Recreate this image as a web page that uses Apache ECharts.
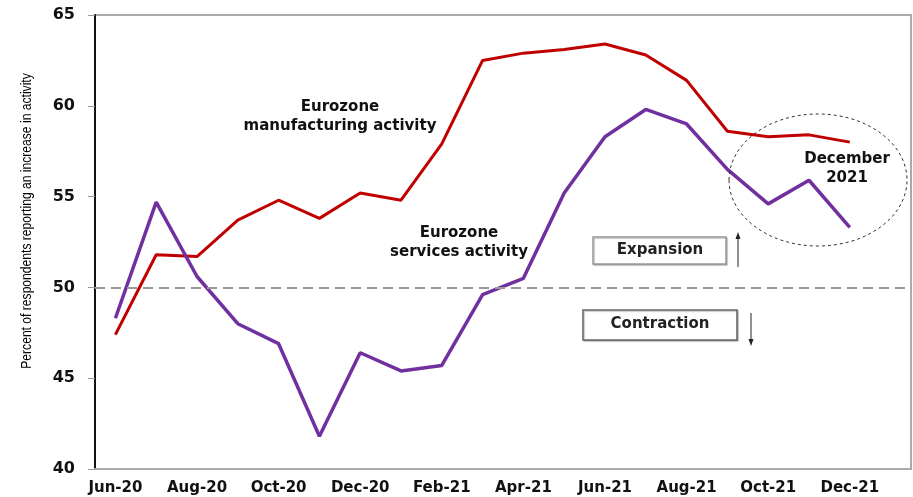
<!DOCTYPE html>
<html>
<head>
<meta charset="utf-8">
<script src="https://cdn.jsdelivr.net/npm/echarts@6/dist/echarts.min.js"></script>
<style>
    html, body { margin: 0; padding: 0; background: #fff; }
    #main { width: 913px; height: 497px; }
</style>
</head>
<body>
<div id="main"></div>
<script>
// 月份
var months = ['Jun-20', 'Jul-20', 'Aug-20', 'Sep-20', 'Oct-20', 'Nov-20', 'Dec-20',
    'Jan-21', 'Feb-21', 'Mar-21', 'Apr-21', 'May-21', 'Jun-21', 'Jul-21', 'Aug-21',
    'Sep-21', 'Oct-21', 'Nov-21', 'Dec-21'];
// 制造业
var manufacturing = [47.4, 51.8, 51.7, 53.7, 54.8, 53.8, 55.2, 54.8, 57.9, 62.5,
    62.9, 63.1, 63.4, 62.8, 61.4, 58.6, 58.3, 58.4, 58.0];
// 服务业
var services = [48.3, 54.7, 50.6, 48.0, 46.9, 41.8, 46.4, 45.4, 45.7, 49.6,
    50.5, 55.2, 58.3, 59.8, 59.0, 56.5, 54.6, 55.9, 53.3];
var yTicks = [40, 45, 50, 55, 60, 65];

(function () {
    'use strict';
    var myChart = echarts.init(document.getElementById('main'));
    var bold = 'DejaVu Sans';

    var option = {
        animation: false,
        backgroundColor: '#fff',
        grid: {
            left: 95,
            right: 2,
            top: 15,
            bottom: 28,
            show: true,
            borderColor: '#aaa',
            borderWidth: 2
        },
        xAxis: {
            type: 'category',
            // 末尾留一个空位
            data: months.concat(['']),
            boundaryGap: true,
            axisLine: { lineStyle: { color: '#aaa', width: 2 } },
            axisTick: { show: false },
            axisLabel: {
                interval: 1,
                margin: 12,
                color: '#111',
                fontFamily: bold,
                fontWeight: 'bold',
                fontSize: 15
            },
            splitLine: { show: false }
        },
        yAxis: {
            type: 'value',
            min: yTicks[0],
            max: yTicks[yTicks.length - 1],
            interval: 5,
            axisLine: { show: true, lineStyle: { color: '#111', width: 2 } },
            axisTick: { show: true, inside: false, length: 7, lineStyle: { color: '#999' } },
            axisLabel: {
                margin: 20,
                color: '#111',
                fontFamily: bold,
                fontWeight: 'bold',
                fontSize: 16
            },
            splitLine: { show: false }
        },
        series: [{
                name: 'Eurozone manufacturing activity',
                type: 'line',
                data: manufacturing,
                showSymbol: false,
                lineStyle: { color: '#c00000', width: 3 },
                z: 3,
                markLine: {
                    silent: true,
                    symbol: 'none',
                    label: { show: false },
                    lineStyle: { color: '#999', width: 2, type: [10, 6] },
                    data: [{ yAxis: 50 }]
                }
            },
            {
                name: 'Eurozone services activity',
                type: 'line',
                data: services,
                showSymbol: false,
                lineStyle: { color: '#7030a0', width: 3.5 },
                z: 4
            }
        ],
        graphic: [
            // 纵轴标题（窄字体效果）
            {
                type: 'text', x: 27, y: 221, rotation: Math.PI / 2, scaleX: 0.865, z: 10,
                style: {
                    text: 'Percent of respondents reporting an increase in activity',
                    align: 'center', verticalAlign: 'middle',
                    font: '14px Liberation Sans', fill: '#000'
                }
            },
            {
                type: 'text', x: 340, y: 98, z: 10,
                style: {
                    text: 'Eurozone\nmanufacturing activity',
                    align: 'center',
                    font: 'bold 15px DejaVu Sans', fill: '#111', lineHeight: 19
                }
            },
            {
                type: 'text', x: 459, y: 224, z: 10,
                style: {
                    text: 'Eurozone\nservices activity',
                    align: 'center',
                    font: 'bold 15px DejaVu Sans', fill: '#111', lineHeight: 19
                }
            },
            {
                type: 'text', x: 847, y: 150, z: 10,
                style: {
                    text: 'December\n2021',
                    align: 'center',
                    font: 'bold 15px DejaVu Sans', fill: '#111', lineHeight: 19
                }
            },
            {
                type: 'ellipse', z: 10,
                shape: { cx: 818, cy: 180, rx: 89, ry: 66 },
                style: { fill: 'none', stroke: '#333', lineWidth: 1, lineDash: [3, 3] }
            },
            {
                type: 'rect', z: 10,
                shape: { x: 593, y: 237, width: 133, height: 27 },
                style: { fill: '#fff', stroke: '#999', lineWidth: 1.5, shadowColor: 'rgba(0,0,0,0.25)', shadowOffsetX: 1, shadowOffsetY: 1, shadowBlur: 1 }
            },
            {
                type: 'text', x: 660, y: 250, z: 11,
                style: { text: 'Expansion', align: 'center', verticalAlign: 'middle', font: 'bold 15px DejaVu Sans', fill: '#222' }
            },
            {
                type: 'rect', z: 10,
                shape: { x: 583, y: 310, width: 154, height: 30 },
                style: { fill: '#fff', stroke: '#666', lineWidth: 1.5, shadowColor: 'rgba(0,0,0,0.25)', shadowOffsetX: 1, shadowOffsetY: 1, shadowBlur: 1 }
            },
            {
                type: 'text', x: 660, y: 324, z: 11,
                style: { text: 'Contraction', align: 'center', verticalAlign: 'middle', font: 'bold 15px DejaVu Sans', fill: '#222' }
            },
            // 向上箭头
            {
                type: 'line', z: 10,
                shape: { x1: 738, y1: 267, x2: 738, y2: 236 },
                style: { stroke: '#222', lineWidth: 1 }
            },
            {
                type: 'polygon', z: 10,
                shape: { points: [[738, 232], [735.5, 239], [740.5, 239]] },
                style: { fill: '#222' }
            },
            // 向下箭头
            {
                type: 'line', z: 10,
                shape: { x1: 751, y1: 313, x2: 751, y2: 342 },
                style: { stroke: '#222', lineWidth: 1 }
            },
            {
                type: 'polygon', z: 10,
                shape: { points: [[751, 346], [748.5, 339], [753.5, 339]] },
                style: { fill: '#222' }
            }
        ]
    };

    myChart.setOption(option);
    window.addEventListener('resize', function () {
        myChart.resize();
    });
})();
</script>
</body>
</html>
